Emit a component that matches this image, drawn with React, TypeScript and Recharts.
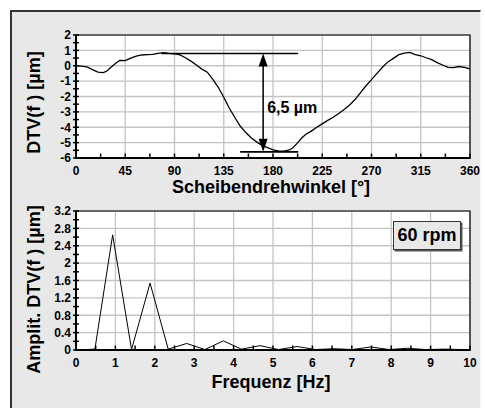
import React from 'react';
import { LineChart, Line, XAxis, YAxis, CartesianGrid, ReferenceLine, ReferenceArea } from 'recharts';

// ---------- Top chart data (angle in degrees, DTV in µm) ----------
const angles = [0, 5, 10, 15, 20, 25, 28, 32, 36, 40, 45, 50, 55, 60, 65, 70, 75, 80, 85, 90, 95, 100, 105, 110, 115, 120, 125, 130, 135, 140, 145, 150, 155, 160, 165, 170, 175, 180, 185, 190, 195, 198, 202, 206, 210, 215, 220, 225, 230, 235, 240, 245, 250, 255, 260, 265, 270, 275, 280, 285, 290, 295, 300, 305, 310, 315, 320, 325, 330, 335, 340, 345, 350, 355, 360];
const dtv = [0.0, -0.02, -0.08, -0.25, -0.42, -0.45, -0.35, -0.1, 0.15, 0.35, 0.33, 0.5, 0.62, 0.7, 0.72, 0.74, 0.8, 0.85, 0.8, 0.78, 0.7, 0.52, 0.3, 0.05, -0.22, -0.42, -0.88, -1.4, -2.05, -2.75, -3.35, -3.92, -4.33, -4.68, -4.95, -5.18, -5.33, -5.47, -5.54, -5.55, -5.48, -5.35, -5.05, -4.72, -4.45, -4.25, -4.0, -3.78, -3.55, -3.35, -3.1, -2.85, -2.55, -2.2, -1.75, -1.3, -0.9, -0.5, -0.1, 0.25, 0.48, 0.72, 0.82, 0.87, 0.72, 0.65, 0.52, 0.4, 0.2, 0.05, -0.1, -0.12, -0.05, -0.1, -0.2];

const topXMajor = [0, 45, 90, 135, 180, 225, 270, 315, 360];
const topXMinor = [22.5, 67.5, 112.5, 157.5, 202.5, 247.5, 292.5, 337.5];
const topYMajor = [-6, -5, -4, -3, -2, -1, 0, 1, 2];
const topYMinor = [-5.5, -4.5, -3.5, -2.5, -1.5, -0.5, 0.5, 1.5];

// annotation: peak-to-peak 6,5 µm
const annotMax = 0.8;
const annotMin = -5.6;
const annotArrowX = 171;
const annotTopLine = [78, 203];
const annotBottomLine = [150, 203];
const annotText = '6,5 µm';

// ---------- Bottom chart data (frequency in Hz, amplitude in µm) ----------
const freqs = [0, 0.48, 0.93, 1.41, 1.88, 2.34, 2.81, 3.27, 3.74, 4.2, 4.67, 5.14, 5.61, 6.08, 6.55, 7.01, 7.48, 7.95, 8.42, 8.88, 9.35, 9.82, 10];
const amps = [0, 0.02, 2.65, 0.01, 1.54, 0.02, 0.15, 0.01, 0.21, 0.02, 0.1, 0.01, 0.08, 0.01, 0.03, 0.01, 0.07, 0.01, 0.04, 0.01, 0.02, 0.01, 0];

const botXMajor = [0, 1, 2, 3, 4, 5, 6, 7, 8, 9, 10];
const botXMinor = [0.5, 1.5, 2.5, 3.5, 4.5, 5.5, 6.5, 7.5, 8.5, 9.5];
const botYMajor = [0, 0.4, 0.8, 1.2, 1.6, 2, 2.4, 2.8, 3.2];
const botYMinor = [0.2, 0.6, 1.0, 1.4, 1.8, 2.2, 2.6, 3.0];

const speedLabel = '60 rpm';

const topData = angles.map((a, i) => ({ x: a, y: dtv[i] }));
const botData = freqs.map((f, i) => ({ x: f, y: amps[i] }));

const FONT = '"Liberation Sans", Arial, sans-serif';
const GRID = '#c4c4c4';

const sortNum = (a: number[]) => [...a].sort((p, q) => p - q);

const makeXTick = (major: number[]) => (props: any) => {
  const { x, y, payload } = props;
  const isMajor = major.some((m) => Math.abs(m - payload.value) < 1e-6);
  return (
    <g>
      <line x1={x} x2={x} y1={y - 4.5} y2={y + 1} stroke="#000" strokeWidth={1.5} />
      {isMajor && (
        <text x={x} y={y + 17} textAnchor="middle" fontFamily={FONT} fontWeight="bold" fontSize={12} fill="#000">
          {String(payload.value)}
        </text>
      )}
    </g>
  );
};

const makeYTick = (major: number[]) => (props: any) => {
  const { x, y, payload } = props;
  const isMajor = major.some((m) => Math.abs(m - payload.value) < 1e-6);
  return (
    <g>
      <line x1={x - 3} x2={x + 3} y1={y} y2={y} stroke="#000" strokeWidth={1.5} />
      {isMajor && (
        <text x={x - 5} y={y + 4.3} textAnchor="end" fontFamily={FONT} fontWeight="bold" fontSize={12} fill="#000">
          {String(payload.value)}
        </text>
      )}
    </g>
  );
};

const ArrowShape = (props: any) => {
  const { x1, y1, x2, y2 } = props;
  const top = Math.min(y1, y2);
  const bot = Math.max(y1, y2);
  const hl = 13;
  const hw = 4.5;
  return (
    <g>
      <line x1={x1} x2={x2} y1={top + hl - 1} y2={bot - hl + 1} stroke="#000" strokeWidth={1.5} />
      <polygon points={`${x1},${top} ${x1 - hw},${top + hl} ${x1 + hw},${top + hl}`} fill="#000" />
      <polygon points={`${x1},${bot} ${x1 - hw},${bot - hl} ${x1 + hw},${bot - hl}`} fill="#000" />
    </g>
  );
};

const XTitle = (text: string, dy: number) => (p: any) => {
  const vb = p.viewBox;
  return (
    <text x={vb.x + vb.width / 2 - 2} y={vb.y + dy} textAnchor="middle" fontFamily={FONT} fontWeight="bold" fontSize={18} fill="#000">
      {text}
    </text>
  );
};

const YTitle = (text: string, cx: number, shift: number) => (p: any) => {
  const vb = p.viewBox;
  const cy = vb.y + vb.height / 2 + shift;
  return (
    <text x={cx} y={cy} transform={`rotate(-90 ${cx} ${cy})`} dy={6.5} textAnchor="middle" fontFamily={FONT} fontWeight="bold" fontSize={18} fill="#000">
      {text}
    </text>
  );
};

export default function App() {
  return (
    <div style={{ position: 'fixed', left: 0, top: 0, width: 485, height: 408, background: '#fff', overflow: 'hidden' }}>
      <div style={{ position: 'absolute', left: 10, top: 10, right: 4, bottom: -4, background: '#e8e8e8', borderLeft: '2px solid #333', borderTop: '2px solid #333', borderRight: '1px solid #f6f6f6' }} />
      <div style={{ position: 'absolute', left: 0, top: 0 }}>
        <LineChart width={485} height={200} data={topData} margin={{ top: 35, right: 15, bottom: 0, left: 0 }}>
          <CartesianGrid fill="#fff" stroke={GRID} strokeWidth={1.3} horizontalValues={topYMajor} verticalValues={topXMajor} />
          <XAxis dataKey="x" type="number" domain={[0, 360]} ticks={sortNum([...topXMajor, ...topXMinor])} interval={0} tickSize={0} tickMargin={0} tickLine={false} tick={makeXTick(topXMajor)} axisLine={{ stroke: '#000', strokeWidth: 2 }} height={42} label={{ content: XTitle('Scheibendrehwinkel [°]', 35) }} />
          <YAxis type="number" domain={[-6, 2]} ticks={sortNum([...topYMajor, ...topYMinor])} interval={0} tickSize={0} tickMargin={0} tickLine={false} tick={makeYTick(topYMajor)} axisLine={{ stroke: '#000', strokeWidth: 2 }} width={76} label={{ content: YTitle('DTV(f ) [µm]', 33, 6) }} />
          <ReferenceArea x1={0} x2={360} y1={-6} y2={2} fill="none" stroke="#000" strokeWidth={1.2} ifOverflow="visible" />
          <Line dataKey="y" type="linear" stroke="#000" strokeWidth={1.3} dot={false} isAnimationActive={false} />
          <ReferenceLine segment={[{ x: annotTopLine[0], y: annotMax }, { x: annotTopLine[1], y: annotMax }]} stroke="#000" strokeWidth={1.6} ifOverflow="visible" />
          <ReferenceLine segment={[{ x: annotBottomLine[0], y: annotMin }, { x: annotBottomLine[1], y: annotMin }]} stroke="#000" strokeWidth={1.6} ifOverflow="visible" />
          <ReferenceLine
            segment={[{ x: annotArrowX, y: annotMax }, { x: annotArrowX, y: annotMin }]}
            shape={ArrowShape}
            ifOverflow="visible"
            label={{
              content: (p: any) => {
                const vb = p.viewBox;
                return (
                  <text x={vb.x + 4} y={vb.y + vb.height / 2 + 10} textAnchor="start" fontFamily={FONT} fontWeight="bold" fontSize={16} fill="#000">
                    {annotText}
                  </text>
                );
              },
            }}
          />
        </LineChart>
      </div>
      <div style={{ position: 'absolute', left: 0, top: 200 }}>
        <LineChart width={485} height={208} data={botData} margin={{ top: 11, right: 15, bottom: 0, left: 0 }}>
          <CartesianGrid fill="#fff" stroke={GRID} strokeWidth={1.3} horizontalValues={botYMajor} verticalValues={botXMajor} />
          <XAxis dataKey="x" type="number" domain={[0, 10]} ticks={sortNum([...botXMajor, ...botXMinor])} interval={0} tickSize={0} tickMargin={0} tickLine={false} tick={makeXTick(botXMajor)} axisLine={{ stroke: '#000', strokeWidth: 2 }} height={58} label={{ content: XTitle('Frequenz [Hz]', 38) }} />
          <YAxis type="number" domain={[0, 3.2]} ticks={sortNum([...botYMajor, ...botYMinor])} interval={0} tickSize={0} tickMargin={0} tickLine={false} tick={makeYTick(botYMajor)} axisLine={{ stroke: '#000', strokeWidth: 2 }} width={76} label={{ content: YTitle('Amplit. DTV(f ) [µm]', 33, 9) }} />
          <ReferenceArea x1={0} x2={10} y1={0} y2={3.2} fill="none" stroke="#000" strokeWidth={1.2} ifOverflow="visible" />
          <Line dataKey="y" type="linear" stroke="#000" strokeWidth={1} dot={false} isAnimationActive={false} />
        </LineChart>
      </div>
      <div style={{ position: 'absolute', left: 393, top: 221, width: 66, height: 27, background: '#e8e8e8', border: '1px solid #333', boxShadow: '1.5px 1.5px 0 #555', fontFamily: FONT, fontWeight: 'bold', fontSize: 18, lineHeight: '27px', textAlign: 'center', color: '#000' }}>
        {speedLabel}
      </div>
    </div>
  );
}
